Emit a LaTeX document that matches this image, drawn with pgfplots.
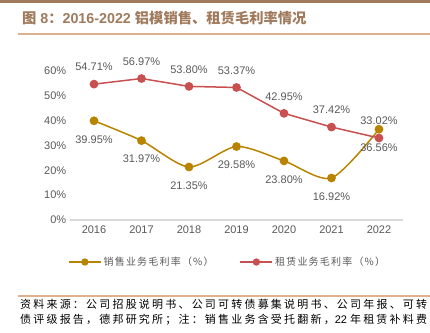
\documentclass[border=0pt]{standalone}
\usepackage{pgfplots}
\pgfplotsset{compat=1.18}
\usepackage{fontspec}
\setmainfont{Liberation Sans}
\newfontfamily\cjk{Noto Sans CJK SC}
\definecolor{gold}{RGB}{184,132,0}
\definecolor{rred}{RGB}{200,80,80}
\definecolor{txt}{RGB}{89,89,89}
\definecolor{brownA}{RGB}{160,122,92}
\definecolor{brownB}{RGB}{222,176,140}
\definecolor{axgray}{RGB}{217,217,217}
\begin{document}
\begin{tikzpicture}
\useasboundingbox (0pt,0pt) rectangle (430pt,332pt);
% decorative lines
\fill[brownA] (0pt,329pt) rectangle (430pt,332pt);
\draw[brownB, line width=1.5pt] (18pt,298pt) -- (430pt,298pt);
\draw[brownB, line width=1.2pt] (18pt,36pt) -- (430pt,36pt);
% title
\node[anchor=west, text=brownA, font=\fontsize{14.3}{16}\selectfont\bfseries] at (18.5pt,314pt)
  {{\cjk\bfseries 图} 8{\cjk\bfseries ：}2016-2022 {\cjk\bfseries 铝模销售、租赁毛利率情况}};
% footer
\node[anchor=north west, text=black, font=\fontsize{11}{15.5}\selectfont, inner sep=0pt, align=left] at (20pt,33pt)
  {{\cjk\addfontfeature{LetterSpace=20}资料来源：公司招股说明书、公司可转债募集说明书、公司年报、可转}\\
   {\cjk\addfontfeature{LetterSpace=20}债评级报告，德邦研究所；注：销售业务含受托翻新，}22\ {\cjk\addfontfeature{LetterSpace=20}年租赁补料费}};
\begin{axis}[
  at={(70.25pt,112pt)}, anchor=south west,
  scale only axis, width=332.5pt, height=149pt,
  xmin=-0.5, xmax=6.5, ymin=0, ymax=60,
  axis lines*=left,
  x axis line style={axgray, line width=1.5pt, -},
  y axis line style={draw=none, -},
  xtick={0,...,6}, xticklabels={2016,2017,2018,2019,2020,2021,2022},
  ytick={0,10,...,60},
  major tick length=0pt,
  clip=false,
  ticklabel style={text=txt, font=\fontsize{11}{12}\selectfont},
  /pgf/number format/assume math mode=true,
  yticklabel={\pgfmathprintnumber{\tick}\%},
  yticklabel style={anchor=east, xshift=-0.5pt},
  xticklabel style={yshift=-2pt},
  every node near coord/.append style={text=txt, font=\fontsize{11}{12}\selectfont, anchor=center},
  nodes near coords={\pgfmathprintnumber[fixed,fixed zerofill,precision=2,assume math mode=true]{\pgfplotspointmeta}\%},
  legend columns=2,
  legend style={draw=none, fill=none, at={(axis description cs:-0.007,-0.282)}, anchor=west,
    font=\cjk\fontsize{10}{12}\selectfont\addfontfeature{LetterSpace=12}, text=txt, inner sep=0pt,
    /tikz/every even column/.append style={column sep=24pt}},
  legend cell align=left,
  legend image code/.code={\draw[mark repeat=2,mark phase=2,#1,mark size=2.9pt] plot coordinates {(0pt,0pt)(16pt,0pt)(32pt,0pt)};},
]
\addplot[gold, line width=1.5pt, smooth, tension=0.45, mark=*, mark size=3.6pt,
  mark options={fill=gold, draw=gold},
  every node near coord/.append style={yshift=-18.5pt}]
  coordinates {(0,39.95)(1,31.97)(2,21.35)(3,29.58)(4,23.80)(5,16.92)(6,36.56)};
\addlegendentry{销售业务毛利率（\%）}
\addplot[rred, line width=1.5pt, mark=*, mark size=3.6pt,
  mark options={fill=rred, draw=rred},
  every node near coord/.append style={yshift=17pt}]
  coordinates {(0,54.71)(1,56.97)(2,53.80)(3,53.37)(4,42.95)(5,37.42)(6,33.02)};
\addlegendentry{租赁业务毛利率（\%）}
\end{axis}
\end{tikzpicture}
\end{document}
